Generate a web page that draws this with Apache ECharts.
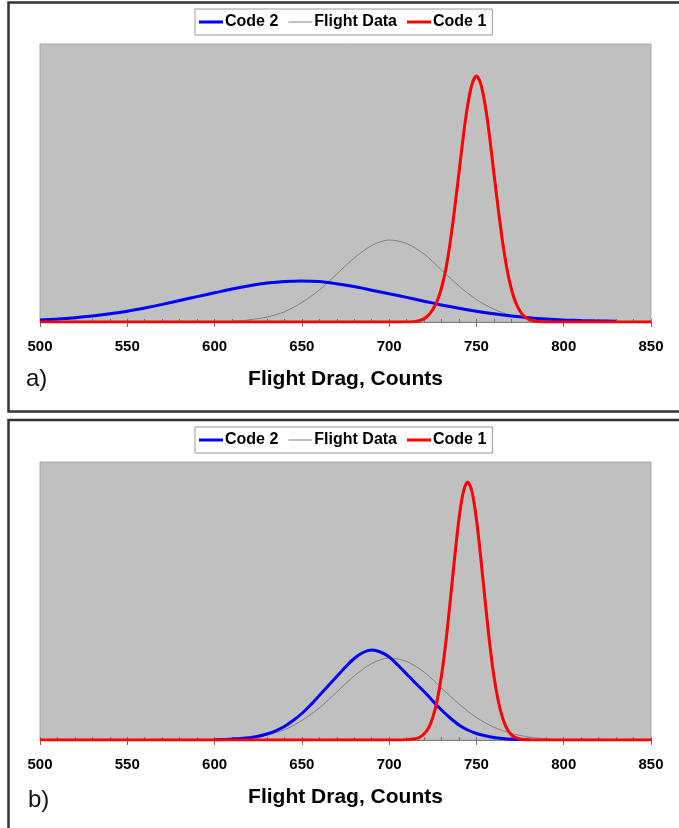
<!DOCTYPE html>
<html>
<head>
<meta charset="utf-8">
<script src="https://cdn.jsdelivr.net/npm/echarts@6/dist/echarts.min.js"></script>
<style>
html,body{margin:0;padding:0;background:#fff;}
#chart{width:679px;height:828px;}
</style>
</head>
<body>
<div id="chart"></div>
<script>
// ---------- data ----------
const tickLabels = [500, 550, 600, 650, 700, 750, 800, 850];
const seriesNames = ['Code 2', 'Flight Data', 'Code 1'];
const xAxisTitle = 'Flight Drag, Counts';

// Flight Data (same in both panels)
const flightX = [610, 620, 630, 640, 650, 660, 670, 680, 690, 700, 710, 720, 730, 740, 750, 760, 770, 780, 790, 800];
const flightY = [0.5, 2.2, 4.9, 10.2, 19.5, 32, 48, 64, 76.5, 82, 78.5, 68, 52, 36, 22.5, 12.8, 6.6, 3.0, 1.2, 0.4];

// Panel a
const code2aX = [500, 510, 520, 530, 540, 550, 560, 570, 580, 590, 600, 610, 620, 630, 640, 650, 660, 670, 680, 690, 700, 710, 720, 730, 740, 750, 760, 770, 780, 790, 800, 810, 820, 830];
const code2aY = [2.0, 3.0, 4.3, 6.0, 8.2, 10.8, 14.0, 17.6, 21.5, 25.4, 29.2, 33.0, 36.3, 39.0, 40.6, 41.0, 40.4, 38.2, 35.4, 31.8, 28.2, 24.6, 20.8, 17.0, 13.7, 10.8, 8.2, 6.0, 4.3, 3.0, 2.1, 1.5, 1.1, 0.8];
const code1aX = [500, 710, 715, 717.5, 720, 722.5, 725, 727.5, 730, 732.5, 735, 737.5, 740, 742.5, 745, 747.5, 750, 752.5, 755, 757.5, 760, 762.5, 765, 767.5, 770, 772.5, 775, 777.5, 780, 782.5, 785, 790, 850];
const code1aY = [0, 0, 0.6, 1.5, 3.4, 6.8, 12.5, 21, 34, 53, 80, 113, 149, 186, 217, 238, 246, 238, 217, 186, 149, 113, 80, 53, 33, 19.5, 10.8, 5.6, 2.7, 1.2, 0.5, 0, 0];

// Panel b
const code2bX = [600, 605, 610, 615, 620, 625, 630, 635, 640, 645, 650, 655, 660, 665, 670, 675, 680, 685, 690, 695, 700, 705, 710, 715, 720, 725, 730, 735, 740, 745, 750, 755, 760, 765, 770, 775, 780];
const code2bY = [0.2, 0.5, 1.0, 1.5, 2.3, 3.8, 6.0, 9.2, 13.5, 19.5, 26.5, 35, 44.5, 54, 63.5, 73, 81.5, 87.5, 90, 88, 83, 75, 66, 57, 48.5, 39, 30, 22, 15, 10, 6.5, 4.2, 2.5, 1.5, 0.8, 0.4, 0.2];
const code1bX = [500, 705, 710, 712.5, 715, 717.5, 720, 722.5, 725, 727.5, 730, 732.5, 735, 737.5, 740, 742.5, 745, 747.5, 750, 752.5, 755, 757.5, 760, 762.5, 765, 767.5, 770, 772.5, 775, 780, 850];
const code1bY = [0, 0, 0.3, 0.8, 1.3, 2.8, 6.0, 11.8, 22.5, 39.5, 64.5, 98, 139, 182, 221, 248, 258, 248, 221, 182, 139, 98, 64, 39, 22, 11.3, 5.4, 2.4, 1.0, 0, 0];

// ---------- chart ----------
const FONT = '"Liberation Sans", Arial, sans-serif';
const zip = (xs, ys) => xs.map((x, i) => [x, ys[i]]);

const grids = [
  {left: 40, top: 44, width: 611, height: 278},
  {left: 40, top: 462, width: 611, height: 278}
].map(g => Object.assign(g, {
  show: true, backgroundColor: '#C0C0C0', borderColor: '#A6A6A6', borderWidth: 1
}));

function mainXAxis(gi) {
  return {
    gridIndex: gi, type: 'value', position: 'bottom',
    min: tickLabels[0], max: tickLabels[tickLabels.length - 1],
    interval: tickLabels[1] - tickLabels[0],
    axisLine: {show: true, onZero: false, lineStyle: {color: '#808080', width: 1}},
    axisTick: {show: true, length: 5, lineStyle: {color: '#707070'}},
    axisLabel: {show: true, color: '#000', fontWeight: 'bold', fontSize: 15, fontFamily: FONT, margin: 17,
      showMinLabel: true, showMaxLabel: true},
    splitLine: {show: false},
    name: xAxisTitle, nameLocation: 'middle', nameGap: 57,
    nameTextStyle: {color: '#000', fontWeight: 'bold', fontSize: 21, fontFamily: FONT, verticalAlign: 'middle'}
  };
}
function minorXAxis(gi) {
  return {
    gridIndex: gi, type: 'value', position: 'bottom', offset: 0,
    min: tickLabels[0], max: tickLabels[tickLabels.length - 1], interval: 10,
    axisLine: {show: false, onZero: false},
    axisTick: {show: true, inside: true, length: 3, lineStyle: {color: '#707070'}},
    axisLabel: {show: false}, splitLine: {show: false}
  };
}
function yAx(gi) {
  return {gridIndex: gi, type: 'value', min: 0, max: 278, show: false, splitLine: {show: false}};
}

function panelSeries(gi, xAxisIndex, c2, c1) {
  const base = {type: 'line', xAxisIndex: xAxisIndex, yAxisIndex: gi, symbol: 'none', smooth: 0.3,
    showSymbol: false, silent: true};
  return [
    Object.assign({}, base, {name: seriesNames[0], data: c2, color: '#0000FF', lineStyle: {color: '#0000FF', width: 3}, z: 3}),
    Object.assign({}, base, {name: seriesNames[1], data: zip(flightX, flightY), color: '#808080', lineStyle: {color: '#808080', width: 1}, z: 2}),
    Object.assign({}, base, {name: seriesNames[2], data: c1, color: '#FF0000', lineStyle: {color: '#FF0000', width: 3}, z: 4})
  ];
}

const thickBar = 'path://M0,0H24V3H0Z';
const thinBar = 'path://M0,0H24V1H0Z';

function legendAt(top) {
  return {
    left: 195, top: top, orient: 'horizontal',
    data: [
      {name: seriesNames[0], icon: thickBar},
      {name: seriesNames[1], icon: thinBar},
      {name: seriesNames[2], icon: thickBar}
    ],
    itemWidth: 24, itemHeight: 14, itemGap: 10, symbolKeepAspect: true,
    padding: [5, 6, 5, 4],
    backgroundColor: '#fff', borderColor: '#9a9a9a', borderWidth: 1,
    textStyle: {color: '#000', fontWeight: 'bold', fontSize: 16, fontFamily: FONT, padding: [0, 0, 0, -3]},
    selectedMode: false
  };
}

const option = {
  animation: false,
  backgroundColor: '#fff',
  textStyle: {fontFamily: FONT},
  grid: grids,
  xAxis: [mainXAxis(0), minorXAxis(0), mainXAxis(1), minorXAxis(1)],
  yAxis: [yAx(0), yAx(1)],
  legend: [legendAt(9), legendAt(427)],
  series: [
    ...panelSeries(0, 0, zip(code2aX, code2aY), zip(code1aX, code1aY)),
    ...panelSeries(1, 2, zip(code2bX, code2bY), zip(code1bX, code1bY))
  ],
  graphic: [
    {type: 'rect', shape: {x: 8.5, y: 2.5, width: 720, height: 409}, style: {fill: 'none', stroke: '#333', lineWidth: 2.5}, z: 100},
    {type: 'rect', shape: {x: 8.5, y: 420, width: 720, height: 460}, style: {fill: 'none', stroke: '#333', lineWidth: 2.5}, z: 100},
    {type: 'text', left: 26, top: 367, style: {text: 'a)', fontSize: 24, fontFamily: FONT, fill: '#111'}},
    {type: 'text', left: 28, top: 788, style: {text: 'b)', fontSize: 24, fontFamily: FONT, fill: '#111'}}
  ]
};

const chart = echarts.init(document.getElementById('chart'), null, {renderer: 'canvas'});
chart.setOption(option);
</script>
</body>
</html>
